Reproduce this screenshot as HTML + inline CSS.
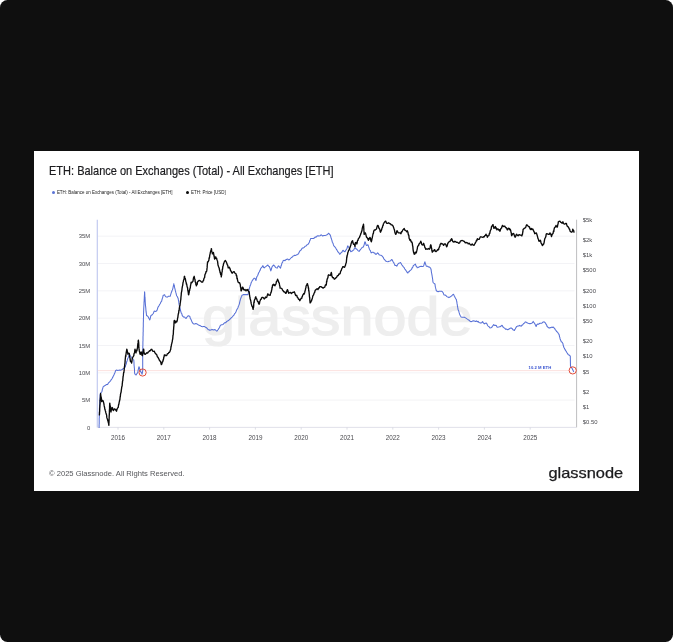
<!DOCTYPE html>
<html lang="en">
<head>
<meta charset="utf-8">
<title>ETH: Balance on Exchanges (Total) - All Exchanges [ETH]</title>
<style>
html,body{margin:0;padding:0;background:#fff;}
body{width:673px;height:642px;overflow:hidden;position:relative;font-family:"Liberation Sans",sans-serif;}
.frame{position:absolute;left:0;top:0;width:673px;height:642px;background:#0f0f0f;border-radius:7.5px;}
.card{position:absolute;left:34px;top:151px;width:605px;height:340px;background:#fff;}
h1{position:absolute;left:49.2px;top:164.35px;margin:0;-webkit-text-stroke:0.2px #1c1c1f;font-size:12.1px;line-height:14px;font-weight:400;color:#1c1c1f;white-space:nowrap;letter-spacing:0;transform:scaleX(0.9102);transform-origin:0 0;}
.legend{position:absolute;left:0;top:0;font-size:4.49px;color:#222;white-space:nowrap;}
.legend span.t{position:absolute;top:189.8px;line-height:5px;}
.legend i{position:absolute;width:3px;height:3px;border-radius:50%;top:190.8px;}
.foot{position:absolute;left:49px;top:468.6px;font-size:7.6px;line-height:10px;color:#55565a;white-space:nowrap;}
.chart{position:absolute;left:0;top:0;font-family:"Liberation Sans",sans-serif;}
.logo{position:absolute;left:0;top:0;}
</style>
</head>
<body>
<div class="frame">
<div class="card"></div>
<h1>ETH: Balance on Exchanges (Total) - All Exchanges [ETH]</h1>
<div class="legend">
<i style="left:51.9px;background:#5b74d6"></i><span class="t" style="left:56.9px">ETH: Balance on Exchanges (Total) - All Exchanges [ETH]</span>
<i style="left:185.6px;background:#0a0a0a"></i><span class="t" style="left:191px">ETH: Price [USD]</span>
</div>
<svg class="chart" width="673" height="642" viewBox="0 0 673 642">
<line x1="97.3" x2="574.5" y1="236.2" y2="236.2" stroke="#f0f0f4" stroke-width="0.8"/>
<line x1="97.3" x2="574.5" y1="263.5" y2="263.5" stroke="#f0f0f4" stroke-width="0.8"/>
<line x1="97.3" x2="574.5" y1="290.8" y2="290.8" stroke="#f0f0f4" stroke-width="0.8"/>
<line x1="97.3" x2="574.5" y1="318.2" y2="318.2" stroke="#f0f0f4" stroke-width="0.8"/>
<line x1="97.3" x2="574.5" y1="345.5" y2="345.5" stroke="#f0f0f4" stroke-width="0.8"/>
<line x1="97.3" x2="574.5" y1="372.8" y2="372.8" stroke="#f0f0f4" stroke-width="0.8"/>
<line x1="97.3" x2="574.5" y1="400.1" y2="400.1" stroke="#f0f0f4" stroke-width="0.8"/>
<text x="202" y="335.4" font-size="53.5" fill="#eeeeee" stroke="#eeeeee" stroke-width="1.2" textLength="270.5" lengthAdjust="spacingAndGlyphs" class="wm">glassnode</text>
<line x1="97.3" x2="97.3" y1="219.7" y2="427.4" stroke="#c2caf0" stroke-width="1.2"/>
<line x1="576.6" x2="576.6" y1="219.7" y2="427.4" stroke="#bebec1" stroke-width="1"/>
<line x1="97.3" x2="576.6" y1="427.4" y2="427.4" stroke="#dcdde6" stroke-width="0.9"/>
<line x1="118.0" x2="118.0" y1="427.4" y2="429.59999999999997" stroke="#d4d6e0" stroke-width="0.8"/>
<text x="118.0" y="440.0" font-size="6.3" fill="#4a4a4f" text-anchor="middle">2016</text>
<line x1="163.8" x2="163.8" y1="427.4" y2="429.59999999999997" stroke="#d4d6e0" stroke-width="0.8"/>
<text x="163.8" y="440.0" font-size="6.3" fill="#4a4a4f" text-anchor="middle">2017</text>
<line x1="209.6" x2="209.6" y1="427.4" y2="429.59999999999997" stroke="#d4d6e0" stroke-width="0.8"/>
<text x="209.6" y="440.0" font-size="6.3" fill="#4a4a4f" text-anchor="middle">2018</text>
<line x1="255.4" x2="255.4" y1="427.4" y2="429.59999999999997" stroke="#d4d6e0" stroke-width="0.8"/>
<text x="255.4" y="440.0" font-size="6.3" fill="#4a4a4f" text-anchor="middle">2019</text>
<line x1="301.2" x2="301.2" y1="427.4" y2="429.59999999999997" stroke="#d4d6e0" stroke-width="0.8"/>
<text x="301.2" y="440.0" font-size="6.3" fill="#4a4a4f" text-anchor="middle">2020</text>
<line x1="347.0" x2="347.0" y1="427.4" y2="429.59999999999997" stroke="#d4d6e0" stroke-width="0.8"/>
<text x="347.0" y="440.0" font-size="6.3" fill="#4a4a4f" text-anchor="middle">2021</text>
<line x1="392.8" x2="392.8" y1="427.4" y2="429.59999999999997" stroke="#d4d6e0" stroke-width="0.8"/>
<text x="392.8" y="440.0" font-size="6.3" fill="#4a4a4f" text-anchor="middle">2022</text>
<line x1="438.6" x2="438.6" y1="427.4" y2="429.59999999999997" stroke="#d4d6e0" stroke-width="0.8"/>
<text x="438.6" y="440.0" font-size="6.3" fill="#4a4a4f" text-anchor="middle">2023</text>
<line x1="484.4" x2="484.4" y1="427.4" y2="429.59999999999997" stroke="#d4d6e0" stroke-width="0.8"/>
<text x="484.4" y="440.0" font-size="6.3" fill="#4a4a4f" text-anchor="middle">2024</text>
<line x1="530.2" x2="530.2" y1="427.4" y2="429.59999999999997" stroke="#d4d6e0" stroke-width="0.8"/>
<text x="530.2" y="440.0" font-size="6.3" fill="#4a4a4f" text-anchor="middle">2025</text>
<text x="90.2" y="238.3" font-size="5.9" fill="#4a4a4f" text-anchor="end">35M</text>
<text x="90.2" y="265.6" font-size="5.9" fill="#4a4a4f" text-anchor="end">30M</text>
<text x="90.2" y="292.9" font-size="5.9" fill="#4a4a4f" text-anchor="end">25M</text>
<text x="90.2" y="320.3" font-size="5.9" fill="#4a4a4f" text-anchor="end">20M</text>
<text x="90.2" y="347.6" font-size="5.9" fill="#4a4a4f" text-anchor="end">15M</text>
<text x="90.2" y="374.9" font-size="5.9" fill="#4a4a4f" text-anchor="end">10M</text>
<text x="90.2" y="402.2" font-size="5.9" fill="#4a4a4f" text-anchor="end">5M</text>
<text x="90.2" y="429.5" font-size="5.9" fill="#4a4a4f" text-anchor="end">0</text>
<text x="582.8" y="221.8" font-size="5.9" fill="#4a4a4f">$5k</text>
<text x="582.8" y="241.9" font-size="5.9" fill="#4a4a4f">$2k</text>
<text x="582.8" y="257.2" font-size="5.9" fill="#4a4a4f">$1k</text>
<text x="582.8" y="272.4" font-size="5.9" fill="#4a4a4f">$500</text>
<text x="582.8" y="292.5" font-size="5.9" fill="#4a4a4f">$200</text>
<text x="582.8" y="307.8" font-size="5.9" fill="#4a4a4f">$100</text>
<text x="582.8" y="323.0" font-size="5.9" fill="#4a4a4f">$50</text>
<text x="582.8" y="343.1" font-size="5.9" fill="#4a4a4f">$20</text>
<text x="582.8" y="358.4" font-size="5.9" fill="#4a4a4f">$10</text>
<text x="582.8" y="373.6" font-size="5.9" fill="#4a4a4f">$5</text>
<text x="582.8" y="393.7" font-size="5.9" fill="#4a4a4f">$2</text>
<text x="582.8" y="409.0" font-size="5.9" fill="#4a4a4f">$1</text>
<text x="582.8" y="424.2" font-size="5.9" fill="#4a4a4f">$0.50</text>
<line x1="97.89999999999999" x2="569.2" y1="370.6" y2="370.6" stroke="#fad9d5" stroke-width="0.8"/>
<path d="M99.1,427.5 L99.1,426.1 L99.1,424.7 L99.2,424.0 L99.2,422.1 L99.2,421.4 L99.2,420.0 L99.2,418.4 L99.3,417.6 L99.3,415.9 L99.3,415.1 L99.3,413.5 L99.3,412.3 L99.4,411.4 L99.4,410.6 L99.4,409.0 L99.5,407.4 L99.5,406.3 L99.6,405.4 L99.7,404.5 L99.7,402.9 L99.8,401.5 L99.9,400.8 L99.9,398.7 L100.0,398.3 L100.1,396.5 L100.1,395.1 L100.2,394.2 L100.7,393.1 L101.2,392.5 L101.7,392.0 L102.0,391.3 L102.3,389.6 L102.5,389.0 L102.8,388.0 L103.1,386.8 L103.9,386.2 L104.6,385.8 L105.4,385.3 L106.5,384.5 L107.6,384.6 L108.3,383.2 L109.1,382.3 L109.8,381.6 L110.5,380.8 L111.3,379.6 L112.0,378.7 L112.5,377.6 L113.0,376.9 L113.4,375.9 L113.9,375.0 L114.4,373.7 L114.8,373.0 L115.2,371.8 L115.7,370.5 L116.7,370.1 L117.7,370.4 L118.7,370.2 L119.7,370.1 L120.6,370.3 L121.6,369.8 L122.4,369.5 L123.1,368.6 L123.9,368.3 L124.6,368.0 L125.3,366.8 L125.6,365.3 L126.0,364.5 L126.3,363.8 L126.6,362.1 L127.0,361.3 L127.3,360.2 L127.7,358.5 L128.1,358.0 L128.5,356.9 L128.9,355.5 L129.3,354.2 L130.0,355.6 L130.6,356.0 L131.3,357.2 L132.0,358.1 L132.7,358.7 L133.2,359.5 L133.8,360.2 L133.9,361.5 L134.0,362.6 L134.0,364.2 L134.1,365.5 L134.2,366.2 L134.3,367.6 L134.4,368.2 L134.5,370.1 L134.5,371.2 L134.6,372.8 L134.7,373.5 L135.4,374.6 L136.1,375.0 L136.6,374.0 L137.1,373.4 L137.6,372.7 L137.9,371.7 L138.2,369.9 L138.4,369.1 L138.7,367.6 L139.0,366.8 L139.4,367.7 L139.7,368.8 L140.1,370.5 L140.6,371.7 L141.1,372.0 L141.6,373.0 L142.1,374.2 L142.3,372.9 L142.5,372.1 L142.7,370.5 L142.7,368.9 L142.7,368.0 L142.7,366.9 L142.7,366.0 L142.7,364.7 L142.7,363.6 L142.7,361.8 L142.7,360.7 L142.7,359.4 L142.7,358.7 L142.7,357.6 L142.7,355.6 L142.7,354.7 L142.7,353.1 L142.8,351.8 L142.8,350.6 L142.8,349.5 L142.8,348.3 L142.8,346.7 L142.9,345.1 L142.9,344.3 L142.9,342.9 L142.9,341.8 L143.0,340.9 L143.0,339.4 L143.0,337.9 L143.0,336.7 L143.1,335.5 L143.1,334.0 L143.1,332.3 L143.2,331.9 L143.2,330.6 L143.2,329.4 L143.2,328.1 L143.3,326.5 L143.3,325.3 L143.3,323.7 L143.3,323.0 L143.4,321.2 L143.4,320.0 L143.4,318.9 L143.5,317.6 L143.5,316.6 L143.5,315.1 L143.5,313.8 L143.6,312.7 L143.6,311.8 L143.7,310.2 L143.7,309.2 L143.8,307.6 L143.8,307.2 L143.9,305.7 L144.0,303.9 L144.0,302.8 L144.1,301.6 L144.2,300.4 L144.2,298.9 L144.3,298.4 L144.3,297.3 L144.4,295.5 L144.5,294.3 L144.5,292.6 L144.6,291.8 L144.7,292.7 L144.8,294.2 L144.8,295.3 L144.9,297.2 L145.0,297.8 L145.1,298.9 L145.2,301.1 L145.2,301.9 L145.3,302.8 L145.4,304.4 L145.5,305.7 L145.6,306.4 L145.8,308.1 L145.9,309.8 L146.0,310.9 L146.1,312.0 L146.3,312.8 L146.4,314.1 L146.5,315.5 L147.4,315.9 L148.3,317.0 L148.8,318.2 L149.3,319.0 L149.8,319.9 L150.1,319.1 L150.4,317.5 L150.7,316.3 L151.0,315.5 L151.9,315.1 L152.8,314.0 L153.3,313.5 L153.7,312.4 L154.2,311.1 L155.3,311.4 L156.5,311.1 L157.0,310.3 L157.4,309.1 L157.9,307.5 L158.4,306.6 L159.0,305.7 L159.6,304.5 L160.2,303.7 L160.7,302.5 L161.1,301.7 L161.6,301.4 L161.9,300.0 L162.2,298.8 L162.5,298.1 L162.8,297.1 L163.1,295.5 L163.8,295.1 L164.6,294.8 L165.2,296.0 L165.8,296.8 L166.4,297.0 L167.4,297.1 L168.3,296.3 L169.2,296.2 L170.2,296.3 L170.6,294.9 L170.9,293.8 L171.3,292.6 L171.7,291.8 L172.0,290.5 L172.4,290.0 L172.7,288.9 L172.9,288.3 L173.1,287.2 L173.4,285.8 L173.6,284.9 L173.8,283.7 L174.0,285.0 L174.3,285.4 L174.5,287.0 L174.8,288.3 L175.0,288.9 L175.3,290.4 L175.6,291.5 L175.8,292.4 L176.1,293.3 L176.4,294.8 L176.8,296.0 L177.3,296.5 L177.8,297.9 L178.2,298.5 L178.4,300.2 L178.6,300.9 L178.8,302.1 L179.0,303.9 L179.2,304.9 L179.4,305.9 L179.7,306.8 L180.0,307.9 L180.3,309.1 L180.6,311.0 L180.9,311.8 L181.3,313.2 L181.8,313.6 L182.2,315.4 L182.7,316.2 L183.6,317.1 L184.6,317.0 L185.3,317.9 L186.1,318.5 L186.6,317.6 L187.0,317.0 L187.5,316.2 L188.5,315.8 L189.5,316.2 L189.9,316.6 L190.3,318.5 L190.8,319.1 L191.2,319.9 L191.6,320.9 L192.1,322.2 L192.6,322.6 L193.0,323.6 L193.9,324.0 L194.8,323.9 L195.7,323.6 L196.7,323.8 L197.6,324.4 L198.6,325.1 L199.6,325.4 L200.6,325.8 L201.6,326.6 L202.6,326.7 L203.6,326.4 L204.6,326.6 L205.6,327.3 L206.5,327.7 L207.5,328.8 L208.2,329.7 L209.0,329.7 L209.7,330.3 L210.8,329.9 L212.0,329.6 L213.0,329.7 L213.9,330.0 L214.9,329.6 L215.6,330.0 L216.4,331.0 L217.1,331.0 L217.8,330.0 L218.4,329.1 L219.1,328.1 L219.7,327.1 L220.2,325.6 L220.8,325.1 L221.9,324.7 L223.1,324.4 L224.0,323.4 L224.9,322.6 L225.8,322.7 L226.7,321.4 L227.6,321.0 L228.5,320.6 L229.4,319.7 L230.2,319.0 L230.9,318.1 L231.7,317.5 L232.4,316.8 L233.1,315.9 L233.9,315.2 L234.6,313.6 L235.3,313.1 L235.9,312.0 L236.4,310.6 L236.9,309.5 L237.5,308.6 L237.9,307.9 L238.2,306.8 L238.6,305.9 L239.0,304.9 L239.3,304.0 L239.6,303.0 L239.9,301.3 L240.2,300.3 L240.5,299.0 L240.9,298.1 L241.2,297.2 L241.6,296.4 L242.0,295.3 L242.8,294.9 L243.5,294.6 L244.6,294.6 L245.7,294.6 L246.8,294.6 L247.9,294.6 L248.2,293.9 L248.4,292.5 L248.7,291.6 L248.9,290.1 L249.2,289.4 L249.5,287.7 L249.8,286.9 L250.1,285.7 L250.5,285.2 L250.8,284.2 L251.2,282.6 L251.6,282.0 L252.2,280.6 L252.8,279.9 L253.4,279.0 L254.2,278.2 L254.9,278.3 L255.4,279.1 L256.0,280.5 L256.3,278.8 L256.5,278.2 L256.8,276.8 L257.3,276.1 L257.8,275.2 L258.3,273.8 L258.8,272.5 L259.2,272.1 L259.7,270.9 L260.2,270.1 L260.7,268.5 L261.2,267.9 L261.7,267.5 L262.2,266.9 L262.7,265.7 L263.2,266.2 L263.7,267.6 L264.2,267.9 L265.1,267.0 L266.1,266.4 L267.0,265.7 L267.9,265.0 L268.6,266.2 L269.4,266.4 L269.8,267.9 L270.1,268.3 L270.4,269.7 L270.8,270.9 L271.2,269.8 L271.6,268.5 L271.9,267.2 L272.3,266.4 L273.1,265.5 L273.8,265.0 L274.3,266.0 L274.9,266.1 L275.4,267.4 L276.2,267.8 L277.1,268.1 L277.6,267.3 L278.1,266.2 L278.6,265.9 L279.2,266.5 L279.9,267.5 L280.5,268.1 L280.8,267.1 L281.1,265.6 L281.4,265.5 L281.7,264.2 L282.0,262.9 L282.6,262.3 L283.1,260.7 L284.1,260.3 L285.0,260.7 L285.9,259.7 L286.9,259.2 L287.8,259.1 L288.7,260.0 L289.6,259.5 L290.5,258.5 L291.4,257.5 L292.4,257.0 L293.1,256.0 L293.9,255.7 L294.6,255.2 L295.7,255.4 L296.8,254.8 L297.8,254.4 L298.7,253.3 L299.3,252.1 L299.9,250.9 L300.5,250.3 L301.1,250.0 L301.7,248.9 L302.3,248.1 L303.2,248.0 L304.2,247.4 L305.1,246.2 L306.1,245.9 L307.0,244.7 L307.9,244.4 L308.4,243.9 L308.9,242.9 L309.4,242.2 L309.8,240.5 L310.2,240.2 L310.6,238.5 L311.5,238.6 L312.4,238.5 L313.5,238.5 L314.6,237.8 L315.3,236.9 L316.1,237.2 L316.8,236.3 L317.9,235.7 L319.0,236.0 L320.0,235.8 L321.0,234.8 L321.9,235.4 L322.7,236.0 L323.8,235.6 L324.9,235.5 L325.9,235.2 L326.9,234.8 L327.6,234.5 L328.4,233.3 L329.2,233.8 L330.1,234.8 L330.5,235.7 L330.9,237.3 L331.3,238.5 L331.6,239.5 L332.0,240.6 L332.3,242.2 L332.7,242.8 L333.1,243.6 L333.4,244.7 L333.8,245.9 L334.5,246.4 L335.1,247.2 L335.8,248.1 L336.4,249.4 L336.9,249.9 L337.5,251.1 L338.2,252.2 L339.0,252.9 L339.7,254.3 L340.4,253.6 L341.0,252.7 L341.7,252.6 L342.2,251.6 L342.7,250.6 L343.2,250.3 L344.0,251.3 L344.9,251.8 L345.4,251.1 L345.9,250.0 L346.4,249.6 L346.8,248.6 L347.1,248.2 L347.5,246.4 L347.9,245.9 L348.4,247.0 L348.9,247.3 L349.4,248.1 L349.8,249.0 L350.1,250.3 L350.4,250.8 L350.8,251.8 L351.6,251.3 L352.3,251.0 L353.1,250.3 L353.8,249.9 L354.4,248.4 L355.1,247.7 L356.0,248.8 L356.8,249.2 L357.6,250.1 L358.3,250.8 L359.1,251.4 L359.8,250.3 L360.6,249.3 L361.3,248.5 L362.0,247.6 L362.8,247.1 L363.5,247.0 L363.8,245.5 L364.1,245.2 L364.4,243.6 L364.7,242.5 L365.0,241.8 L365.4,242.3 L365.8,244.0 L366.1,244.9 L366.5,245.5 L367.2,245.3 L367.9,244.8 L368.3,245.7 L368.6,246.7 L369.0,247.9 L369.4,249.2 L369.9,250.1 L370.4,250.7 L370.8,251.9 L371.3,252.9 L372.2,252.3 L373.1,252.2 L373.9,253.0 L374.6,252.9 L375.4,254.1 L376.1,254.4 L376.9,253.7 L377.6,252.9 L378.3,253.4 L379.1,254.8 L379.8,255.1 L380.9,255.3 L382.0,255.9 L382.6,256.7 L383.2,257.3 L383.8,258.8 L384.4,259.4 L385.1,260.3 L385.7,261.1 L386.8,261.5 L387.9,261.8 L389.0,261.2 L390.1,261.1 L390.9,260.4 L391.6,259.6 L392.1,259.8 L392.6,260.8 L393.1,261.8 L393.6,262.3 L394.1,263.5 L394.5,264.1 L395.0,265.5 L395.9,265.4 L396.8,266.2 L397.4,265.0 L398.0,264.0 L398.6,263.3 L399.6,263.0 L400.5,262.5 L401.1,263.5 L401.8,264.8 L402.4,265.5 L403.0,266.4 L403.6,267.2 L404.2,267.7 L404.8,269.1 L405.4,269.6 L406.0,270.7 L406.6,271.3 L407.3,272.7 L407.9,272.9 L408.5,271.8 L409.2,271.7 L409.8,270.7 L410.7,270.1 L411.6,269.2 L412.1,267.8 L412.5,267.7 L412.9,266.8 L413.4,265.5 L414.4,264.9 L415.3,264.0 L415.8,265.2 L416.2,266.2 L416.7,266.4 L417.2,267.7 L418.1,267.4 L419.0,267.0 L420.1,266.6 L421.2,266.2 L422.3,266.5 L423.4,266.2 L423.8,265.4 L424.1,264.3 L424.5,263.0 L424.9,261.8 L425.3,263.3 L425.6,264.2 L426.0,265.3 L426.4,266.2 L427.5,266.3 L428.6,267.0 L429.3,267.0 L430.1,267.6 L430.8,268.5 L431.0,269.5 L431.2,270.3 L431.4,272.1 L431.6,273.0 L431.8,274.1 L432.0,275.1 L432.2,276.5 L432.4,277.7 L432.6,278.8 L432.7,279.5 L432.9,281.6 L433.1,282.5 L434.1,283.5 L435.0,284.0 L435.1,285.0 L435.2,286.0 L435.4,287.2 L435.7,288.4 L435.9,288.9 L436.2,290.5 L437.1,291.3 L438.1,291.7 L439.2,291.2 L440.4,291.2 L441.5,291.2 L442.6,292.0 L443.1,292.7 L443.6,294.2 L444.1,294.9 L445.1,295.0 L446.0,295.7 L446.9,296.6 L447.8,297.1 L448.9,297.6 L450.0,297.1 L450.9,296.4 L451.9,295.7 L452.6,294.8 L453.4,294.2 L453.9,295.1 L454.4,296.3 L454.9,297.1 L455.4,298.1 L455.8,298.8 L456.3,299.4 L456.5,300.7 L456.7,301.2 L456.9,302.4 L457.1,303.9 L457.3,304.8 L457.5,306.5 L457.7,307.2 L457.9,308.7 L458.1,309.8 L458.5,310.4 L458.9,311.6 L459.2,312.9 L459.6,314.2 L460.1,315.3 L460.6,316.2 L461.1,316.9 L462.2,317.2 L463.3,317.2 L464.4,317.3 L465.5,317.9 L466.3,318.4 L467.0,318.9 L467.8,319.4 L468.5,320.0 L469.3,320.3 L470.0,321.3 L471.1,321.7 L472.2,321.3 L473.3,320.8 L474.4,320.9 L475.5,321.4 L476.6,320.9 L477.4,321.8 L478.1,321.4 L478.9,322.4 L479.9,322.7 L480.8,323.1 L481.7,322.7 L482.6,321.6 L483.2,322.8 L483.7,323.1 L484.3,323.9 L485.3,323.3 L486.3,323.1 L486.9,323.8 L487.6,325.5 L488.2,326.1 L489.1,326.7 L490.0,327.9 L490.9,327.8 L491.7,327.6 L492.4,326.2 L493.0,325.6 L493.7,324.6 L494.6,325.4 L495.6,325.3 L496.3,325.6 L497.0,327.0 L497.7,327.3 L498.6,327.1 L499.6,326.8 L500.3,326.7 L501.1,326.0 L501.8,325.3 L502.4,325.7 L503.0,327.0 L503.6,327.3 L504.2,328.0 L504.9,328.2 L505.5,329.3 L506.6,329.1 L507.7,329.8 L508.6,329.2 L509.5,328.7 L510.2,328.3 L511.0,327.9 L511.6,328.3 L512.3,328.8 L512.9,329.8 L513.6,330.0 L514.4,330.5 L514.9,329.3 L515.4,328.9 L515.9,327.6 L516.8,326.4 L517.8,326.1 L518.7,326.0 L519.6,325.3 L520.5,326.0 L521.3,326.1 L522.0,325.0 L522.6,325.1 L523.3,323.9 L523.9,323.4 L524.6,323.0 L525.2,321.9 L526.1,322.1 L527.0,322.8 L528.2,323.2 L529.0,323.4 L529.9,323.8 L530.8,323.4 L531.6,323.2 L532.4,322.8 L533.2,321.4 L533.7,322.3 L534.3,322.9 L534.8,323.8 L535.2,324.6 L535.7,325.4 L536.1,326.5 L536.6,325.2 L537.0,324.5 L537.5,324.1 L538.4,324.3 L539.2,323.8 L540.0,323.3 L540.9,323.2 L541.7,323.3 L542.5,322.5 L543.3,321.9 L544.1,321.8 L545.0,322.5 L545.8,323.6 L546.2,324.6 L546.7,325.2 L547.1,326.5 L547.8,327.0 L548.5,327.8 L549.4,328.1 L550.2,327.5 L551.0,327.7 L551.8,327.1 L552.5,327.4 L553.3,327.1 L554.0,327.9 L554.7,328.5 L555.4,329.9 L556.0,330.4 L556.6,331.5 L557.1,331.8 L557.7,332.4 L558.4,333.6 L559.0,334.4 L559.2,334.9 L559.5,336.6 L559.8,337.4 L560.0,338.4 L560.4,339.8 L560.9,340.7 L561.3,341.7 L562.0,342.1 L562.6,343.0 L562.9,343.5 L563.2,345.4 L563.4,345.6 L563.7,347.0 L564.1,347.8 L564.6,348.6 L565.0,349.6 L565.6,350.4 L566.3,351.6 L567.0,352.8 L567.6,353.6 L568.3,354.7 L569.0,354.9 L570.3,356.2 L570.5,366.2 L571.9,368.1 L573.6,371.5" fill="none" stroke="#5770d6" stroke-width="1.05" stroke-linejoin="round" stroke-linecap="round"/>
<path d="M99.4,414.9 L99.5,413.6 L99.5,412.6 L99.6,412.2 L99.7,410.1 L99.7,409.0 L99.8,407.9 L99.9,405.9 L99.9,405.4 L100.0,404.5 L100.1,403.6 L100.1,401.0 L100.2,400.2 L100.3,398.6 L100.3,398.9 L100.4,397.5 L100.5,395.0 L100.5,395.7 L100.6,393.5 L100.8,395.6 L100.9,396.1 L101.1,397.2 L101.2,397.4 L101.4,398.3 L101.5,400.5 L101.7,401.6 L102.4,400.4 L103.1,400.9 L103.3,401.4 L103.6,402.6 L103.8,403.3 L104.1,405.2 L104.3,406.3 L104.6,407.5 L104.8,409.2 L105.1,409.5 L105.3,410.7 L105.6,411.4 L105.8,412.7 L106.1,413.4 L106.3,414.3 L106.6,415.0 L106.8,417.4 L107.1,418.4 L107.3,419.1 L107.6,419.4 L107.8,420.8 L108.0,421.0 L108.2,421.8 L108.4,422.9 L108.6,423.5 L108.8,425.3 L108.9,424.7 L108.9,422.8 L109.0,422.5 L109.0,420.4 L109.1,420.4 L109.1,419.0 L109.2,416.1 L109.2,415.4 L109.3,415.6 L109.3,413.6 L109.4,413.4 L109.4,411.1 L109.5,409.3 L109.5,409.2 L109.6,408.3 L109.6,406.1 L109.7,404.6 L109.7,403.9 L109.8,403.1 L110.0,405.1 L110.1,405.8 L110.2,405.7 L110.4,407.0 L110.5,407.9 L110.7,408.9 L110.8,411.5 L111.0,412.0 L111.2,410.2 L111.5,409.9 L111.8,408.5 L112.0,407.5 L112.5,407.9 L113.0,410.0 L113.5,410.5 L114.2,409.0 L115.0,409.0 L115.5,410.0 L116.0,409.7 L116.5,411.2 L116.8,410.1 L117.2,408.8 L117.6,408.0 L117.9,407.5 L118.2,407.5 L118.4,406.1 L118.7,404.2 L118.9,404.3 L119.2,402.0 L119.4,401.6 L119.6,400.3 L119.8,400.1 L120.0,398.5 L120.2,396.4 L120.3,397.0 L120.5,394.4 L120.7,393.3 L120.9,392.7 L121.1,392.1 L121.3,390.2 L121.5,389.0 L121.7,387.4 L121.9,386.4 L122.1,386.1 L122.2,385.2 L122.3,383.4 L122.4,383.1 L122.5,381.5 L122.7,380.6 L122.8,380.6 L122.9,378.5 L123.0,377.6 L123.1,376.4 L123.3,376.0 L123.5,373.6 L123.7,372.4 L123.8,372.8 L124.0,371.5 L124.2,369.8 L124.3,368.2 L124.4,367.0 L124.5,366.9 L124.6,366.2 L124.8,363.6 L124.9,364.0 L125.0,362.8 L125.1,361.1 L125.2,359.7 L125.3,358.7 L125.5,356.8 L125.6,355.6 L125.8,356.4 L126.0,353.9 L126.1,353.8 L126.3,351.8 L126.5,351.9 L126.6,350.4 L126.8,349.1 L127.0,349.7 L127.2,350.5 L127.5,352.6 L127.7,352.3 L127.9,354.2 L128.6,353.3 L129.3,353.5 L129.5,354.8 L129.6,356.5 L129.8,357.2 L130.0,357.7 L130.2,360.1 L130.3,359.9 L130.5,361.6 L131.1,361.4 L131.6,363.1 L131.8,361.7 L132.0,361.0 L132.1,359.3 L132.3,358.5 L132.5,357.9 L132.7,357.2 L133.2,356.6 L133.8,355.7 L134.0,353.9 L134.2,353.2 L134.4,353.2 L134.6,352.3 L134.8,350.5 L135.0,349.1 L135.2,350.4 L135.5,351.1 L135.8,351.2 L136.0,352.8 L136.3,350.9 L136.6,350.0 L136.9,350.8 L137.2,349.1 L137.3,348.4 L137.5,347.8 L137.7,344.8 L137.8,344.9 L137.9,343.5 L138.1,342.9 L138.2,341.0 L138.4,340.2 L138.5,342.3 L138.6,341.6 L138.7,343.6 L138.8,345.1 L138.8,346.6 L138.9,347.3 L139.0,348.4 L139.1,349.1 L139.3,350.7 L139.5,352.0 L139.7,351.9 L139.9,353.6 L140.1,354.2 L140.5,354.3 L140.8,353.5 L141.2,352.0 L141.5,352.8 L141.8,354.4 L142.1,355.5 L142.4,355.7 L142.6,354.7 L142.8,353.7 L142.9,352.2 L143.1,351.5 L143.3,350.4 L143.5,349.1 L143.7,349.3 L143.9,351.4 L144.2,353.1 L144.4,353.9 L144.6,354.2 L145.3,354.3 L146.1,353.5 L146.8,352.8 L147.6,353.0 L148.3,352.0 L149.0,351.5 L149.7,350.6 L150.3,350.8 L151.0,349.5 L151.8,349.3 L152.7,351.2 L153.5,351.3 L154.2,351.1 L155.0,353.0 L155.7,353.5 L156.2,354.4 L156.8,354.8 L157.3,356.7 L157.9,357.2 L158.4,358.1 L159.0,359.3 L159.6,360.8 L160.1,360.9 L160.4,361.3 L160.7,361.8 L161.0,363.3 L161.3,364.6 L161.8,364.0 L162.3,362.0 L162.8,361.6 L163.1,359.8 L163.3,360.2 L163.6,358.6 L163.8,357.1 L164.1,356.9 L164.3,355.0 L165.2,355.0 L166.0,355.7 L166.8,355.3 L167.5,353.6 L168.3,353.5 L168.9,352.4 L169.4,352.3 L169.9,351.6 L170.5,349.8 L170.7,349.5 L170.9,347.5 L171.1,346.8 L171.4,345.2 L171.6,343.8 L171.8,343.5 L172.0,342.4 L172.2,342.0 L172.3,341.0 L172.5,339.7 L172.7,339.1 L172.9,336.7 L173.0,335.4 L173.2,335.0 L173.3,333.7 L173.4,332.2 L173.4,330.9 L173.5,330.1 L173.6,329.3 L173.7,327.8 L173.8,326.3 L173.9,326.1 L173.9,325.2 L174.0,323.0 L174.1,321.0 L174.2,320.7 L174.7,320.5 L175.2,322.9 L175.7,322.9 L176.2,321.2 L176.7,321.9 L177.2,320.7 L177.4,319.7 L177.6,318.0 L177.8,317.8 L178.1,315.1 L178.3,314.1 L178.5,313.6 L178.7,312.5 L178.9,310.4 L179.1,310.8 L179.3,308.5 L179.5,307.2 L179.7,305.8 L179.9,305.8 L180.1,304.4 L180.2,303.1 L180.4,302.4 L180.5,301.3 L180.6,300.4 L180.8,299.6 L180.9,297.9 L181.1,295.8 L181.2,295.2 L181.3,293.4 L181.5,292.0 L181.6,291.8 L181.8,290.7 L181.9,290.1 L182.1,288.0 L182.3,287.1 L182.4,286.2 L182.6,285.8 L182.8,284.4 L182.9,283.5 L183.1,282.2 L183.3,281.7 L183.6,280.0 L183.8,279.8 L184.1,279.1 L184.3,276.5 L184.6,276.3 L184.8,278.1 L185.1,278.7 L185.3,278.5 L185.6,280.1 L185.8,281.5 L186.1,282.2 L186.4,284.1 L186.7,284.0 L186.9,285.5 L187.2,287.1 L187.5,287.4 L187.7,289.1 L187.8,290.4 L188.0,290.5 L188.1,291.9 L188.3,292.1 L188.4,294.2 L188.6,294.8 L188.8,294.5 L189.0,293.1 L189.2,292.3 L189.4,290.3 L189.6,290.7 L189.8,288.9 L190.0,288.7 L190.3,287.6 L190.5,285.6 L190.7,285.0 L191.0,283.0 L191.2,282.2 L191.9,282.7 L192.7,281.5 L193.0,281.2 L193.3,279.1 L193.6,277.5 L193.9,277.2 L194.2,276.3 L194.4,277.4 L194.6,278.8 L194.8,279.2 L195.0,279.3 L195.2,281.8 L195.4,282.2 L195.7,282.3 L195.9,284.6 L196.2,284.3 L196.4,285.9 L196.8,284.5 L197.2,284.3 L197.5,281.9 L197.9,281.5 L199.0,280.4 L200.1,280.7 L200.8,281.2 L201.6,282.1 L202.3,282.2 L202.7,282.0 L203.1,280.8 L203.5,280.5 L203.9,278.7 L204.3,277.8 L204.6,277.7 L204.9,274.9 L205.2,274.1 L205.5,273.7 L205.8,272.6 L206.1,271.4 L206.5,271.6 L206.8,270.4 L206.9,269.6 L207.0,268.3 L207.1,267.9 L207.2,266.3 L207.3,264.7 L207.4,263.8 L207.5,263.0 L207.5,262.0 L208.1,261.9 L208.7,260.5 L208.9,260.3 L209.1,257.9 L209.3,258.3 L209.5,257.5 L209.7,255.6 L209.9,254.6 L210.1,253.8 L210.4,252.0 L210.6,251.7 L210.8,250.7 L211.1,249.9 L211.3,248.7 L211.5,248.8 L211.7,251.7 L212.0,251.9 L212.2,252.7 L212.4,253.9 L212.9,253.8 L213.4,252.4 L213.6,253.6 L213.8,254.6 L214.0,256.1 L214.2,255.9 L214.4,258.0 L214.6,259.0 L215.0,258.1 L215.4,258.4 L215.8,256.8 L216.2,258.6 L216.6,258.2 L216.9,259.5 L217.3,260.5 L217.5,260.8 L217.7,262.4 L217.9,264.3 L218.1,265.5 L218.3,265.7 L218.6,266.7 L218.9,267.4 L219.2,268.2 L219.5,270.1 L219.8,270.9 L220.1,272.7 L220.3,272.1 L220.6,274.4 L220.8,273.9 L221.1,275.2 L221.3,276.8 L221.5,275.1 L221.7,274.9 L221.8,273.1 L222.0,272.1 L222.2,271.5 L222.3,269.3 L222.5,269.5 L222.7,267.9 L222.9,266.2 L223.2,266.0 L223.4,264.5 L223.7,263.4 L223.9,263.0 L224.2,262.0 L224.8,261.1 L225.4,260.5 L225.9,261.3 L226.4,262.3 L226.9,263.5 L227.2,264.7 L227.6,265.0 L227.9,266.2 L228.2,267.9 L228.8,267.8 L229.4,267.2 L229.8,268.4 L230.2,269.1 L230.5,270.7 L230.9,270.9 L231.4,271.9 L231.9,273.1 L232.4,273.1 L233.2,271.8 L234.1,271.6 L234.8,272.8 L235.4,273.7 L236.1,273.8 L236.3,275.6 L236.6,275.4 L236.8,276.4 L237.0,278.6 L237.3,278.2 L237.5,279.8 L238.0,281.8 L238.5,282.5 L239.0,282.7 L239.6,282.7 L240.1,284.2 L240.3,284.8 L240.5,286.9 L240.6,287.1 L240.8,287.9 L241.0,290.4 L241.2,290.9 L241.6,289.8 L241.9,289.6 L242.3,287.4 L242.7,287.2 L243.2,288.0 L243.7,289.5 L244.2,290.1 L245.1,289.5 L246.0,290.9 L246.6,289.8 L247.3,290.3 L247.9,289.4 L248.3,291.0 L248.7,291.8 L249.1,291.6 L249.2,291.9 L249.4,293.7 L249.5,295.3 L249.7,295.8 L249.8,297.3 L250.0,297.3 L250.1,299.0 L250.3,299.1 L250.6,300.2 L250.8,301.0 L251.1,303.0 L251.3,303.9 L251.6,304.9 L252.0,306.2 L252.3,306.4 L252.7,307.6 L253.1,309.4 L253.2,307.7 L253.4,307.9 L253.6,307.0 L253.7,305.8 L253.8,303.0 L254.0,301.8 L254.2,302.5 L254.3,300.5 L254.7,299.5 L255.1,299.2 L255.4,297.4 L255.8,296.8 L256.1,297.7 L256.5,298.7 L256.9,299.4 L257.2,300.5 L257.6,301.6 L258.1,301.4 L258.6,303.7 L259.0,304.2 L259.4,303.8 L259.8,301.3 L260.1,300.7 L260.5,299.7 L261.0,299.4 L261.5,298.0 L262.0,297.5 L262.7,297.4 L263.5,297.8 L264.2,299.0 L264.8,298.5 L265.5,297.0 L266.1,297.5 L266.6,297.4 L267.0,296.3 L267.4,295.1 L267.9,293.8 L268.6,295.0 L269.4,295.1 L270.1,295.3 L270.4,294.1 L270.7,293.4 L271.0,292.2 L271.3,292.1 L271.6,290.1 L271.8,289.7 L272.0,287.5 L272.2,287.8 L272.4,286.4 L272.6,284.9 L273.2,285.1 L273.8,284.2 L274.4,285.6 L275.0,285.7 L275.4,284.4 L275.8,284.3 L276.1,283.2 L276.5,281.4 L276.9,281.1 L277.2,280.5 L277.6,279.2 L278.0,280.7 L278.4,280.9 L278.7,282.4 L279.1,282.9 L279.3,283.1 L279.5,284.7 L279.7,286.0 L279.9,286.1 L280.1,288.1 L281.1,288.2 L282.0,288.8 L282.6,290.1 L283.3,291.0 L283.9,291.8 L284.8,292.0 L285.7,293.3 L286.1,293.3 L286.6,291.8 L287.1,290.2 L287.5,289.6 L287.8,290.8 L288.1,291.6 L288.4,292.4 L288.7,293.3 L289.6,292.7 L290.5,292.5 L291.4,293.5 L292.4,292.5 L293.4,292.4 L294.3,291.8 L294.8,293.1 L295.2,294.2 L295.7,295.5 L296.1,295.5 L296.7,295.3 L297.3,297.2 L297.9,297.7 L298.5,299.2 L299.2,299.2 L299.8,300.7 L300.4,299.7 L301.1,298.3 L301.7,298.4 L302.1,296.9 L302.4,296.3 L302.8,294.8 L303.2,294.7 L303.7,293.5 L304.2,294.0 L304.7,292.5 L304.9,291.5 L305.2,290.3 L305.4,290.1 L305.6,288.2 L305.9,288.0 L306.1,285.9 L306.5,285.4 L306.8,285.0 L307.2,283.6 L307.5,283.8 L307.9,285.8 L308.2,286.6 L308.4,288.3 L308.6,288.1 L308.7,291.0 L308.9,290.6 L309.1,292.5 L309.2,293.6 L309.3,294.1 L309.4,296.0 L309.5,297.3 L309.7,297.4 L309.8,300.3 L309.9,300.4 L310.0,301.8 L310.1,302.9 L310.6,302.4 L311.1,301.2 L311.6,300.7 L311.9,299.2 L312.2,298.9 L312.5,297.7 L312.8,296.1 L313.1,295.5 L313.6,294.9 L314.1,293.1 L314.6,292.5 L315.1,290.6 L315.6,290.1 L316.1,289.6 L317.1,288.7 L318.0,289.6 L318.6,287.9 L319.2,288.1 L319.8,286.6 L320.9,286.7 L322.0,287.3 L323.1,288.1 L324.2,287.3 L324.8,287.1 L325.4,284.9 L326.0,285.1 L326.2,285.1 L326.4,284.0 L326.6,281.3 L326.8,282.0 L327.0,280.0 L327.2,279.2 L327.6,278.1 L327.9,277.9 L328.2,275.4 L328.6,274.8 L329.4,275.2 L330.1,275.5 L330.5,275.4 L330.9,273.9 L331.3,272.5 L331.6,273.6 L331.8,275.7 L332.1,276.5 L332.3,277.0 L333.0,277.9 L333.6,277.7 L334.3,279.2 L335.1,278.7 L336.0,277.7 L336.8,276.9 L337.5,275.6 L338.3,275.5 L338.9,273.9 L339.6,274.1 L340.2,273.3 L340.6,271.4 L340.9,270.9 L341.3,270.3 L341.7,268.8 L342.2,268.0 L342.7,266.9 L343.2,266.6 L343.9,267.2 L344.6,267.4 L345.0,266.1 L345.4,265.7 L345.7,264.1 L346.1,262.9 L346.2,262.8 L346.4,261.7 L346.5,260.2 L346.7,258.1 L346.8,256.8 L347.0,257.3 L347.1,255.5 L347.4,255.1 L347.6,253.9 L347.9,252.4 L348.2,251.8 L348.6,250.4 L348.9,250.3 L349.3,249.2 L349.7,248.1 L350.1,247.2 L350.4,246.2 L350.8,245.3 L351.1,243.7 L351.6,242.1 L352.1,241.2 L352.6,240.7 L352.9,242.6 L353.2,243.4 L353.5,244.2 L353.8,244.4 L354.2,244.2 L354.6,245.0 L355.0,246.6 L355.1,245.1 L355.2,244.5 L355.3,243.8 L355.4,242.6 L356.1,242.5 L356.8,244.0 L357.1,243.1 L357.4,241.1 L357.7,240.1 L358.0,240.3 L358.3,238.9 L358.8,238.2 L359.3,237.6 L359.8,236.6 L360.2,235.4 L360.6,234.7 L360.9,233.2 L361.3,232.9 L361.5,231.6 L361.8,231.3 L362.0,230.5 L362.3,228.0 L362.5,227.8 L362.8,226.1 L363.0,226.6 L363.2,225.3 L363.5,224.1 L363.6,225.8 L363.7,225.8 L363.7,227.4 L363.8,228.2 L363.9,230.4 L364.0,230.7 L364.0,232.4 L364.1,234.2 L364.2,234.4 L364.8,233.3 L365.4,232.9 L365.8,234.1 L366.1,235.6 L366.5,237.1 L366.9,237.4 L367.4,238.2 L367.9,239.1 L368.4,240.3 L368.9,238.5 L369.4,239.1 L369.9,237.4 L370.2,237.7 L370.6,238.8 L370.9,240.8 L371.3,241.8 L371.6,240.7 L371.8,240.0 L372.1,238.1 L372.3,238.0 L372.6,235.5 L372.8,235.2 L373.1,233.6 L373.4,233.4 L373.7,231.2 L374.0,230.6 L374.3,230.0 L375.2,230.0 L376.1,229.2 L376.6,228.7 L377.0,226.9 L377.4,225.7 L377.9,225.5 L378.4,226.2 L378.8,228.0 L379.3,228.5 L379.6,229.2 L379.9,229.6 L380.2,231.7 L380.5,232.2 L380.9,231.2 L381.2,230.8 L381.6,229.8 L382.0,227.8 L382.4,227.7 L382.7,225.9 L383.1,225.7 L383.4,223.8 L383.8,223.3 L384.4,222.2 L385.1,221.6 L385.7,221.1 L386.3,222.7 L387.0,223.4 L387.6,223.3 L388.5,222.8 L389.4,223.3 L390.3,223.8 L391.2,224.8 L391.9,224.9 L392.7,225.5 L393.1,226.2 L393.4,227.1 L393.8,228.1 L394.1,229.2 L394.4,229.6 L394.7,231.4 L395.0,232.9 L395.3,233.4 L395.6,234.4 L396.0,234.1 L396.4,232.7 L396.7,231.0 L397.1,230.7 L397.7,232.0 L398.4,232.9 L399.0,232.9 L400.0,232.9 L401.0,233.7 L401.4,231.8 L401.9,231.9 L402.3,231.0 L402.7,230.0 L403.4,229.4 L404.2,228.5 L404.8,230.2 L405.4,230.3 L406.0,230.7 L406.6,231.8 L407.3,230.8 L407.9,232.2 L408.1,233.4 L408.4,235.0 L408.6,234.7 L408.9,235.8 L409.1,238.3 L409.4,238.9 L409.9,240.4 L410.4,239.5 L410.9,241.1 L411.4,242.1 L411.8,241.9 L412.3,243.3 L412.5,244.9 L412.6,245.9 L412.8,246.3 L412.9,247.4 L413.1,249.6 L413.2,250.3 L413.4,251.4 L413.7,252.9 L414.0,253.2 L414.3,254.4 L414.6,253.3 L415.0,253.9 L415.3,252.2 L415.8,252.9 L416.3,252.9 L416.5,251.9 L416.7,251.0 L416.9,250.4 L417.1,249.4 L417.3,248.8 L417.5,247.0 L418.0,245.8 L418.5,245.7 L419.0,244.0 L419.6,243.4 L420.2,242.8 L420.8,241.1 L421.2,242.6 L421.6,243.6 L421.9,244.7 L422.3,244.8 L423.0,245.0 L423.7,243.3 L424.0,244.6 L424.4,245.3 L424.7,246.7 L425.0,247.8 L425.4,248.1 L425.7,249.2 L426.6,249.0 L427.6,249.2 L428.5,248.5 L429.4,249.2 L429.8,248.6 L430.1,248.0 L430.4,245.7 L430.8,244.8 L431.0,245.2 L431.2,246.3 L431.4,247.8 L431.7,248.6 L431.9,251.0 L432.1,250.3 L432.3,252.2 L433.1,251.1 L433.8,250.7 L434.4,249.6 L435.0,250.0 L435.1,250.9 L435.2,251.3 L436.1,251.5 L437.1,250.5 L437.9,249.5 L438.6,249.8 L438.9,247.9 L439.2,247.6 L439.5,246.8 L439.8,246.5 L440.1,244.6 L441.0,243.3 L441.8,243.9 L442.7,243.8 L443.6,245.3 L444.4,244.0 L445.1,243.9 L445.6,244.3 L446.1,245.3 L446.6,246.8 L447.0,246.3 L447.4,245.1 L447.7,243.5 L448.1,243.1 L448.7,242.0 L449.4,241.7 L450.0,241.6 L450.5,240.0 L451.0,240.2 L451.5,238.7 L452.0,239.3 L452.4,240.7 L452.9,241.6 L453.9,242.1 L454.9,241.3 L455.8,241.8 L456.6,242.4 L457.5,242.3 L458.4,243.1 L459.0,243.3 L459.7,242.7 L460.3,241.3 L461.3,240.6 L462.3,240.5 L463.3,241.0 L464.3,241.3 L465.3,242.8 L466.3,242.4 L466.9,242.9 L467.6,242.8 L468.2,243.9 L469.2,243.3 L470.3,244.6 L471.2,245.1 L472.2,243.9 L473.1,245.2 L474.1,245.3 L474.6,244.1 L475.1,243.4 L475.6,242.4 L476.1,241.5 L476.5,240.1 L476.9,240.6 L477.4,238.7 L478.2,239.4 L479.1,239.4 L479.8,238.0 L480.4,236.8 L481.1,236.9 L482.1,237.1 L483.0,237.5 L483.6,236.6 L484.2,236.9 L484.8,235.7 L485.4,235.4 L486.0,234.2 L486.5,235.4 L486.9,235.5 L487.4,237.2 L488.1,235.8 L488.9,235.7 L489.2,234.3 L489.5,233.1 L489.8,233.3 L490.1,231.6 L490.4,230.5 L490.8,229.7 L491.1,229.3 L491.5,226.7 L491.9,226.1 L492.4,225.4 L492.9,224.6 L493.1,224.8 L493.4,227.0 L493.6,226.4 L493.9,228.3 L494.6,228.0 L495.4,226.5 L495.8,228.0 L496.1,228.8 L496.5,228.1 L496.9,229.8 L497.6,229.0 L498.4,229.1 L498.9,230.3 L499.4,229.8 L499.9,231.3 L500.3,230.3 L500.6,229.2 L501.0,228.3 L501.5,228.2 L502.0,226.5 L502.5,225.4 L503.4,226.5 L504.3,226.1 L504.9,226.2 L505.6,227.7 L506.2,227.6 L506.7,228.2 L507.2,229.9 L507.7,229.8 L508.4,228.2 L509.2,228.3 L509.7,229.7 L510.2,229.2 L510.7,230.5 L510.9,231.6 L511.1,232.6 L511.3,232.9 L511.5,235.3 L511.7,235.7 L512.2,234.6 L512.7,233.9 L513.2,233.5 L513.7,233.6 L514.2,235.0 L514.6,236.2 L515.1,237.2 L515.6,236.6 L516.1,234.9 L516.6,234.2 L517.4,235.3 L518.1,235.7 L519.0,234.6 L520.0,235.0 L521.0,235.2 L521.9,235.9 L522.1,234.7 L522.4,234.6 L522.6,233.2 L522.9,231.7 L523.1,229.3 L523.4,229.2 L524.3,228.3 L525.2,227.8 L525.8,227.2 L526.3,225.3 L526.9,224.8 L527.6,225.7 L528.4,226.3 L528.9,226.9 L529.4,226.8 L529.9,228.5 L530.6,229.5 L531.4,228.5 L532.0,229.6 L532.7,228.9 L533.3,230.0 L533.7,231.2 L534.0,231.4 L534.4,232.5 L534.8,233.7 L535.5,233.4 L536.3,232.9 L536.6,233.6 L537.0,234.8 L537.4,236.1 L537.7,237.4 L538.0,238.7 L538.2,238.8 L538.5,239.6 L538.8,241.1 L539.5,241.2 L540.3,240.3 L540.7,241.0 L541.0,243.2 L541.4,243.3 L541.8,244.2 L542.2,245.2 L542.6,245.5 L543.1,244.2 L543.6,244.2 L544.1,242.6 L544.4,240.7 L544.6,239.6 L544.9,238.4 L545.1,238.1 L545.5,237.4 L545.9,236.3 L546.2,234.2 L546.6,233.7 L547.5,233.9 L548.5,234.4 L549.2,234.3 L550.0,232.9 L550.4,234.0 L550.8,233.9 L551.1,235.1 L551.5,236.6 L552.0,234.9 L552.5,233.9 L553.0,233.7 L553.2,232.5 L553.5,230.9 L553.8,231.6 L554.0,229.6 L554.2,228.8 L554.5,227.8 L555.0,227.3 L555.5,226.8 L556.0,225.5 L556.7,226.9 L557.4,227.0 L557.6,225.7 L557.8,224.6 L558.1,223.7 L558.3,221.9 L558.5,221.8 L559.2,221.3 L559.9,221.1 L560.6,222.2 L561.4,222.6 L562.1,223.2 L562.9,221.8 L563.4,223.1 L563.9,223.7 L564.4,224.1 L565.1,223.9 L565.9,223.3 L566.4,223.3 L566.8,225.0 L567.3,226.3 L568.0,226.7 L568.8,227.8 L569.2,229.0 L569.5,228.9 L569.9,230.3 L570.3,231.5 L571.0,231.9 L571.8,232.2 L572.1,231.8 L572.5,230.9 L572.8,229.2 L573.2,230.4 L573.6,230.5 L574.0,232.2" fill="none" stroke="#0a0a0a" stroke-width="1.35" stroke-linejoin="round" stroke-linecap="round"/>
<circle cx="142.6" cy="372.5" r="3.6" fill="none" stroke="#e0432f" stroke-width="0.95"/>
<circle cx="572.7" cy="370.4" r="3.6" fill="none" stroke="#e0432f" stroke-width="0.95"/>
<text x="528.6" y="369.2" font-size="4.1" font-weight="700" fill="#3550cf" textLength="22.6" lengthAdjust="spacingAndGlyphs">10.2 M ETH</text>
</svg>
<div class="foot">© 2025 Glassnode. All Rights Reserved.</div>
<svg class="chart logo" width="673" height="642" viewBox="0 0 673 642"><text x="548.4" y="478" font-size="14.5" fill="#1b1b1d" stroke="#1b1b1d" stroke-width="0.25" textLength="74.8" lengthAdjust="spacingAndGlyphs">glassnode</text></svg>
</div>
</body>
</html>
